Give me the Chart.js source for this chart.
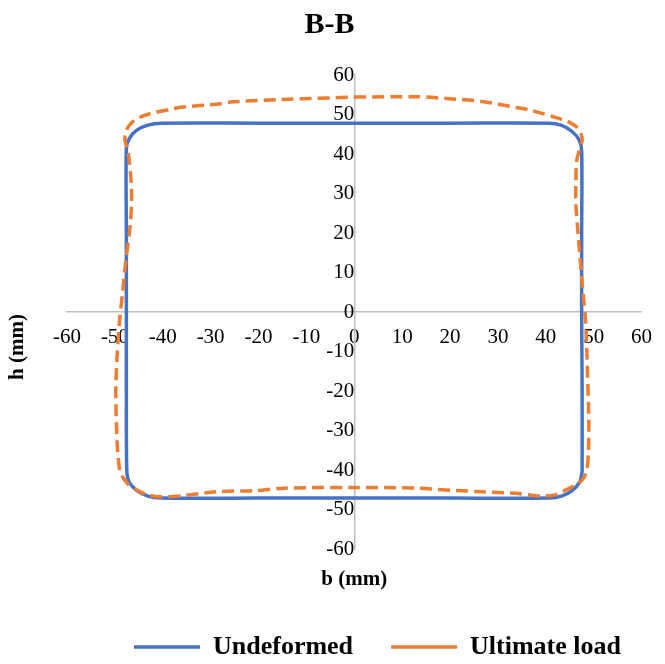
<!DOCTYPE html>
<html>
<head>
<meta charset="utf-8">
<title>B-B</title>
<script src="https://cdn.jsdelivr.net/npm/chart.js@4.4.1/dist/chart.umd.min.js"></script>
<style>
  html, body { margin: 0; padding: 0; background: #fff; overflow: hidden; }
</style>
</head>
<body>
<canvas id="chart" width="665" height="670"></canvas>
<script>
// section outline, b and h in mm
const seriesNames = ['Undeformed', 'Ultimate load'];

const undeformedB = [0, 20, 40.6, 43.2, 45.5, 47.0, 47.5, 47.5, 47.5, 47.6, 47.6, 47.6, 47.1, 45.5, 43.3, 40.6,
  20, 0, -20, -40.3, -43.1, -45.4, -47.0, -47.5, -47.6, -47.6, -47.6, -47.6, -47.0, -45.5, -43.1, -40.3, -20, 0];
const undeformedH = [47.8, 47.8, 47.8, 47.3, 45.7, 43.5, 40.8, 20, 0, -20, -40.5, -40.5, -43.0, -45.2, -46.6, -47.1,
  -47.1, -47.1, -47.1, -47.1, -46.6, -45.2, -43.1, -40.6, -20, 0, 20, 41.5, 43.9, 46.0, 47.3, 47.8, 47.8, 47.8];

const ultimateB = [0, 12.9, 19.8, 26.7, 33.7, 37.1, 42.7, 44.5, 46.3, 47.3, 47.6, 46.5, 46.3, 46.3, 46.7, 47.2,
  47.8, 48.3, 48.6, 48.8, 49.0, 48.9, 48.4, 46.9, 44.8, 43.4, 42.0, 39.2, 37.1, 33.7, 26.7, 21.2, 12.9, 0,
  -14.9, -20.5, -28.8, -35.8, -40.6, -43.4, -45.5, -47.3, -48.2, -48.9, -49.4, -49.7, -49.8, -49.5, -49.0,
  -48.4, -47.7, -46.9, -46.5, -46.6, -47.2, -47.9, -47.6, -46.6, -44.8, -42.7, -38.5, -35.8, -28.8, -25.4, -15.0, 0];
const ultimateH = [54.4, 54.5, 54.0, 53.3, 51.8, 51.0, 49.0, 48.3, 47.0, 45.3, 43.5, 38.5, 33.0, 27.0, 20.8, 13.2,
  4.7, -2.0, -10.4, -18.9, -27.3, -35.7, -40.8, -43.4, -44.7, -45.5, -46.3, -46.6, -46.4, -45.9, -45.5, -45.2, -44.6, -44.4,
  -44.6, -45.2, -45.5, -46.5, -46.8, -46.2, -45.0, -43.5, -42.1, -40.5, -35.7, -27.3, -18.9, -10.4, -2.0,
  4.8, 13.2, 20.8, 27.6, 33.0, 40.2, 43.5, 46.0, 47.8, 49.3, 50.2, 51.3, 51.9, 52.6, 53.2, 53.8, 54.4];

const axisMin = -60;
const axisMax = 60;
const axisStep = 10;

const serif = "'Times New Roman', 'Liberation Serif', serif";

function toPoints(bs, hs) {
  return bs.map((b, i) => ({ x: b, y: hs[i] }));
}

// rotated "h (mm)" label on the left
const sideTitle = {
  id: 'sideTitle',
  afterDraw(chart) {
    const ctx = chart.ctx;
    ctx.save();
    ctx.translate(18, 347);
    ctx.rotate(-Math.PI / 2);
    ctx.font = 'bold 21px ' + serif;
    ctx.fillStyle = '#000';
    ctx.textAlign = 'center';
    ctx.textBaseline = 'middle';
    ctx.fillText('h (mm)', 0, 0);
    ctx.restore();
  }
};

const centerTicks = {
  display: true,
  autoSkip: false,
  stepSize: axisStep,
  color: '#000',
  font: { family: serif, size: 21 }
};

new Chart(document.getElementById('chart'), {
  type: 'scatter',
  data: {
    datasets: [{
      label: seriesNames[0],
      data: toPoints(undeformedB, undeformedH),
      showLine: true,
      borderColor: '#4472C4',
      backgroundColor: '#4472C4',
      borderWidth: 3.5,
      pointRadius: 0,
      tension: 0.3,
      order: 2,
      xAxisID: 'x',
      yAxisID: 'y'
    }, {
      label: seriesNames[1],
      data: toPoints(ultimateB, ultimateH),
      showLine: true,
      borderColor: '#ED7D31',
      backgroundColor: '#ED7D31',
      borderWidth: 3.5,
      borderDash: [12, 6],
      pointRadius: 0,
      tension: 0.3,
      order: 1,
      xAxisID: 'x',
      yAxisID: 'y'
    }]
  },
  options: {
    responsive: false,
    animation: false,
    layout: { padding: { top: 0, right: 6, bottom: 0, left: 0 } },
    scales: {
      x: {
        type: 'linear',
        position: { y: 0 },
        min: axisMin,
        max: axisMax,
        ticks: Object.assign({ padding: 13, maxRotation: 0 }, centerTicks),
        grid: { display: false, drawTicks: false },
        border: { display: true, color: '#BFBFBF', width: 1.5 }
      },
      y: {
        type: 'linear',
        position: { x: 0 },
        min: axisMin,
        max: axisMax,
        ticks: Object.assign({ padding: 22 }, centerTicks),
        grid: { display: false, drawTicks: false },
        border: { display: true, color: '#BFBFBF', width: 1.5 }
      },
      // spacer axes that hold the plot area in place
      xTitle: {
        type: 'linear',
        axis: 'x',
        position: 'bottom',
        min: axisMin,
        max: axisMax,
        ticks: { display: false },
        grid: { display: false, drawTicks: false },
        border: { display: false },
        title: {
          display: true,
          text: 'b (mm)',
          color: '#000',
          font: { family: serif, size: 21, weight: 'bold' },
          padding: { top: 18.4, bottom: 3.4 }
        },
        afterFit(scale) { scale.height = 47; }
      },
      yLeft: {
        type: 'linear',
        axis: 'y',
        position: 'left',
        min: axisMin,
        max: axisMax,
        ticks: { display: false },
        grid: { display: false, drawTicks: false },
        border: { display: false },
        afterFit(scale) { scale.width = 67; }
      },
      yRight: {
        type: 'linear',
        axis: 'y',
        position: 'right',
        min: axisMin,
        max: axisMax,
        ticks: { display: false },
        grid: { display: false, drawTicks: false },
        border: { display: false },
        afterFit(scale) { scale.width = 16; }
      }
    },
    plugins: {
      title: {
        display: true,
        text: 'B-B',
        color: '#000',
        font: { family: serif, size: 30, weight: 'bold' },
        padding: { top: 7.5, bottom: 31.5 }
      },
      legend: {
        position: 'bottom',
        align: 'end',
        labels: {
          usePointStyle: true,
          pointStyle: 'line',
          pointStyleWidth: 66,
          padding: 38,
          color: '#000',
          font: { family: serif, size: 26, weight: 'bold' },
          sort: (a, b) => a.datasetIndex - b.datasetIndex
        }
      },
      tooltip: { enabled: false }
    }
  },
  plugins: [sideTitle]
});
</script>
</body>
</html>
